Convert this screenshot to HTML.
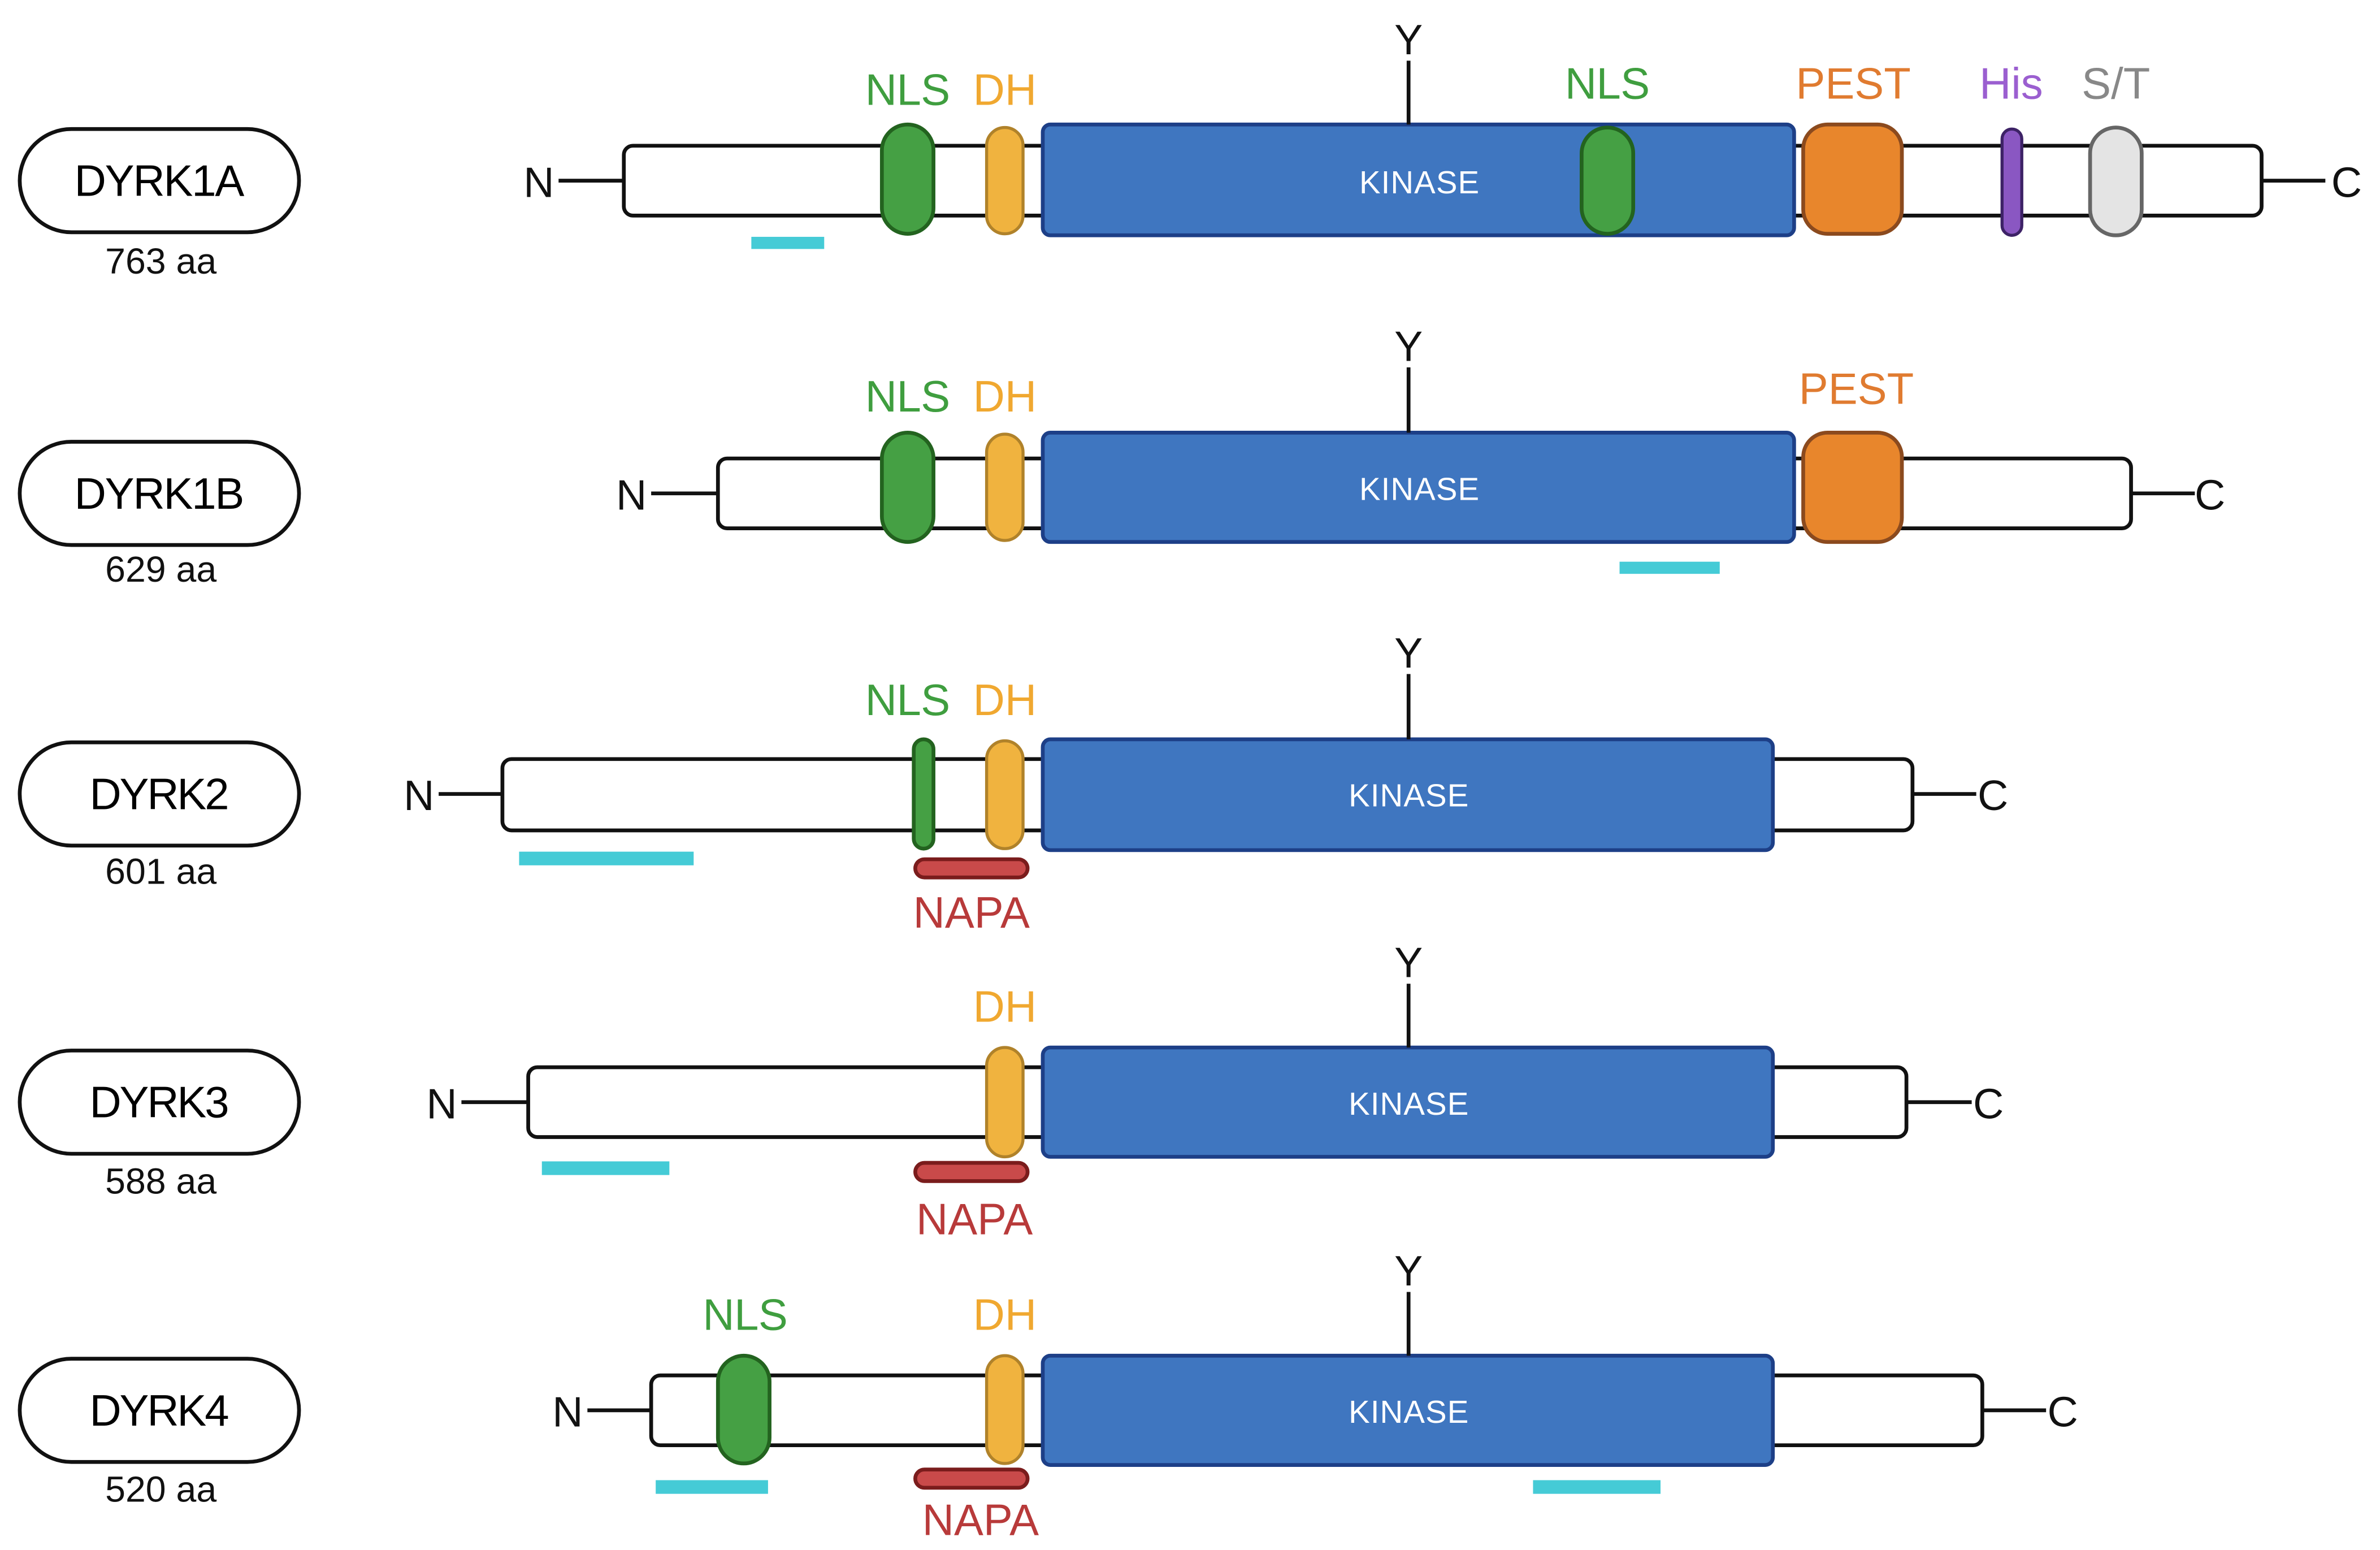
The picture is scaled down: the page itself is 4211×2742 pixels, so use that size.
<!DOCTYPE html>
<html><head><meta charset="utf-8"><style>html,body{margin:0;padding:0;background:#fff}svg{display:block}</style></head><body>
<svg width="4211" height="2742" viewBox="0 0 1568 1021" xmlns="http://www.w3.org/2000/svg" font-family="'Liberation Sans', sans-serif">
<defs>
<style>
.lab{font-size:29px;text-anchor:middle;dominant-baseline:central}
.aa{font-size:24px;text-anchor:middle;dominant-baseline:central;fill:#111}
.nc{font-size:28px;text-anchor:middle;dominant-baseline:central;fill:#111}
.dl{font-size:29px;text-anchor:middle;dominant-baseline:central}
.kin{font-size:21px;fill:#fff;text-anchor:middle;dominant-baseline:central}
.bar{fill:#fff;stroke:#111;stroke-width:2.5}
.kb{fill:#3f76c0;stroke:#1d3f87;stroke-width:2.5}
.nls{fill:#45a044;stroke:#23631f;stroke-width:2.5}
.dh{fill:#f0b33f;stroke:#b0822a;stroke-width:2}
.pest{fill:#e8862c;stroke:#8b4a1e;stroke-width:2.5}
.napa{fill:#c94a4a;stroke:#7a1c1c;stroke-width:2.5}
.cy{fill:#45cbd6}
.ln{stroke:#111;stroke-width:2.5}
.pill{fill:#fff;stroke:#111;stroke-width:2.5}
</style>
</defs>

<!-- Row 1 DYRK1A -->
<rect class="pill" x="13" y="85" width="184" height="68" rx="34"/>
<text class="lab" x="105" y="119" textLength="112">DYRK1A</text>
<text class="aa" x="106" y="172">763 aa</text>
<text class="nc" x="355" y="120">N</text>
<line class="ln" x1="368" y1="119" x2="411" y2="119"/>
<rect class="bar" x="411" y="96" width="1079" height="46" rx="6"/>
<line class="ln" x1="1490" y1="119" x2="1532" y2="119"/>
<text class="nc" x="1546" y="120">C</text>
<rect class="cy" x="495" y="156" width="48" height="8"/>
<rect class="nls" x="581" y="82" width="34" height="72" rx="17"/>
<rect class="dh" x="650" y="84" width="24" height="70" rx="12"/>
<rect class="kb" x="687" y="82" width="495" height="73" rx="5"/>
<text class="kin" x="935" y="120" textLength="79">KINASE</text>
<rect class="nls" x="1042" y="84" width="34" height="70" rx="17"/>
<rect class="pest" x="1188" y="82" width="65" height="72" rx="16"/>
<rect x="1319" y="85" width="13" height="70" rx="6.5" fill="#8a57c2" stroke="#3d2266" stroke-width="2"/>
<rect x="1377" y="84" width="34" height="71" rx="17" fill="#e4e4e4" stroke="#666" stroke-width="2.5"/>
<line class="ln" x1="928" y1="40" x2="928" y2="82"/>
<text class="nc" x="928" y="26">Y</text>
<text class="dl" x="598" y="59" fill="#3f9e3f" textLength="56">NLS</text>
<text class="dl" x="662" y="59" fill="#f0a830">DH</text>
<text class="dl" x="1059" y="55" fill="#3f9e3f" textLength="56">NLS</text>
<text class="dl" x="1221" y="55" fill="#e07b30">PEST</text>
<text class="dl" x="1325" y="55" fill="#9b5fd0">His</text>
<text class="dl" x="1394" y="55" fill="#888">S/T</text>

<!-- Row 2 DYRK1B -->
<rect class="pill" x="13" y="291" width="184" height="68" rx="34"/>
<text class="lab" x="105" y="325" textLength="112">DYRK1B</text>
<text class="aa" x="106" y="375">629 aa</text>
<text class="nc" x="416" y="326">N</text>
<line class="ln" x1="429" y1="325" x2="473" y2="325"/>
<rect class="bar" x="473" y="302" width="931" height="46" rx="6"/>
<line class="ln" x1="1404" y1="325" x2="1446" y2="325"/>
<text class="nc" x="1456" y="326">C</text>
<rect class="nls" x="581" y="285" width="34" height="72" rx="17"/>
<rect class="dh" x="650" y="286" width="24" height="70" rx="12"/>
<rect class="kb" x="687" y="285" width="495" height="72" rx="5"/>
<text class="kin" x="935" y="322" textLength="79">KINASE</text>
<rect class="pest" x="1188" y="285" width="65" height="72" rx="16"/>
<rect class="cy" x="1067" y="370" width="66" height="8"/>
<line class="ln" x1="928" y1="242" x2="928" y2="285"/>
<text class="nc" x="928" y="228">Y</text>
<text class="dl" x="598" y="261" fill="#3f9e3f" textLength="56">NLS</text>
<text class="dl" x="662" y="261" fill="#f0a830">DH</text>
<text class="dl" x="1223" y="256" fill="#e07b30">PEST</text>

<!-- Row 3 DYRK2 -->
<rect class="pill" x="13" y="489" width="184" height="68" rx="34"/>
<text class="lab" x="105" y="523" textLength="92">DYRK2</text>
<text class="aa" x="106" y="574">601 aa</text>
<text class="nc" x="276" y="524">N</text>
<line class="ln" x1="289" y1="523" x2="331" y2="523"/>
<rect class="bar" x="331" y="500" width="929" height="47" rx="6"/>
<line class="ln" x1="1260" y1="523" x2="1302" y2="523"/>
<text class="nc" x="1313" y="524">C</text>
<rect class="cy" x="342" y="561" width="115" height="9"/>
<rect class="nls" x="602" y="487" width="13" height="72" rx="6.5"/>
<rect class="dh" x="650" y="488" width="24" height="71" rx="12"/>
<rect class="kb" x="687" y="487" width="481" height="73" rx="5"/>
<text class="kin" x="928" y="524" textLength="79">KINASE</text>
<rect class="napa" x="603" y="566" width="74" height="12" rx="6"/>
<line class="ln" x1="928" y1="444" x2="928" y2="487"/>
<text class="nc" x="928" y="430">Y</text>
<text class="dl" x="598" y="461" fill="#3f9e3f" textLength="56">NLS</text>
<text class="dl" x="662" y="461" fill="#f0a830">DH</text>
<text class="dl" x="640" y="601" fill="#b83a3a">NAPA</text>

<!-- Row 4 DYRK3 -->
<rect class="pill" x="13" y="692" width="184" height="68" rx="34"/>
<text class="lab" x="105" y="726" textLength="92">DYRK3</text>
<text class="aa" x="106" y="778">588 aa</text>
<text class="nc" x="291" y="727">N</text>
<line class="ln" x1="304" y1="726" x2="348" y2="726"/>
<rect class="bar" x="348" y="703" width="908" height="46" rx="6"/>
<line class="ln" x1="1256" y1="726" x2="1299" y2="726"/>
<text class="nc" x="1310" y="727">C</text>
<rect class="cy" x="357" y="765" width="84" height="9"/>
<rect class="dh" x="650" y="690" width="24" height="72" rx="12"/>
<rect class="kb" x="687" y="690" width="481" height="72" rx="5"/>
<text class="kin" x="928" y="727" textLength="79">KINASE</text>
<rect class="napa" x="603" y="766" width="74" height="12" rx="6"/>
<line class="ln" x1="928" y1="648" x2="928" y2="690"/>
<text class="nc" x="928" y="634">Y</text>
<text class="dl" x="662" y="663" fill="#f0a830">DH</text>
<text class="dl" x="642" y="803" fill="#b83a3a">NAPA</text>

<!-- Row 5 DYRK4 -->
<rect class="pill" x="13" y="895" width="184" height="68" rx="34"/>
<text class="lab" x="105" y="929" textLength="92">DYRK4</text>
<text class="aa" x="106" y="981">520 aa</text>
<text class="nc" x="374" y="930">N</text>
<line class="ln" x1="387" y1="929" x2="429" y2="929"/>
<rect class="bar" x="429" y="906" width="877" height="46" rx="6"/>
<line class="ln" x1="1306" y1="929" x2="1348" y2="929"/>
<text class="nc" x="1359" y="930">C</text>
<rect class="cy" x="432" y="975" width="74" height="9"/>
<rect class="cy" x="1010" y="975" width="84" height="9"/>
<rect class="nls" x="473" y="893" width="34" height="71" rx="17"/>
<rect class="dh" x="650" y="893" width="24" height="71" rx="12"/>
<rect class="kb" x="687" y="893" width="481" height="72" rx="5"/>
<text class="kin" x="928" y="930" textLength="79">KINASE</text>
<rect class="napa" x="603" y="968" width="74" height="12" rx="6"/>
<line class="ln" x1="928" y1="851" x2="928" y2="893"/>
<text class="nc" x="928" y="837">Y</text>
<text class="dl" x="491" y="866" fill="#3f9e3f" textLength="56">NLS</text>
<text class="dl" x="662" y="866" fill="#f0a830">DH</text>
<text class="dl" x="646" y="1001" fill="#b83a3a">NAPA</text>
</svg>
</body></html>
